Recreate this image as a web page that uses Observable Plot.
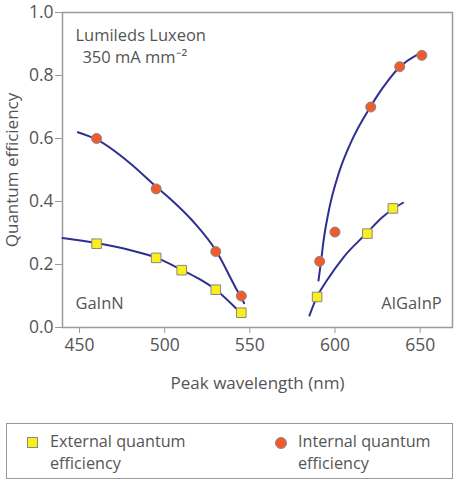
<!DOCTYPE html>
<html>
<head>
<meta charset="utf-8">
<script src="https://cdn.jsdelivr.net/npm/d3@7"></script>
<script src="https://cdn.jsdelivr.net/npm/@observablehq/plot@0.6"></script>
<style>
  body { margin: 0; background: #fff; font-family: "Open Sans", sans-serif; }
  #chart svg { display: block; }
  .legend { position: relative; margin: 23px 0 0 6px; width: 445px; height: 54px; border: 1px solid #9a9a9a; color: #555; font-size: 16.2px; line-height: 22px; }
  .legend .sw { position: absolute; width: 9px; height: 9px; border: 1px solid #888; }
  .legend .sq { left: 20px; top: 13px; background: #fbee1d; }
  .legend .ci { left: 268px; top: 13px; background: #f15a2c; border-radius: 50%; width: 10px; height: 10px; }
  .legend .tx { position: absolute; top: 6px; white-space: nowrap; }
</style>
</head>
<body>
<div id="chart"></div>
<div class="legend">
  <div class="sw sq"></div><div class="tx" style="left:43px">External quantum<br>efficiency</div>
  <div class="sw ci"></div><div class="tx" style="left:291px">Internal quantum<br>efficiency</div>
</div>
<script>
// Measured points
const gainnEqeX = [460, 495, 510, 530, 545];
const gainnEqeY = [0.266, 0.221, 0.182, 0.12, 0.047];
const gainnIqeX = [460, 495, 530, 545];
const gainnIqeY = [0.60, 0.44, 0.241, 0.10];
const algainpEqeX = [589.5, 619, 634];
const algainpEqeY = [0.097, 0.298, 0.378];
const algainpIqeX = [591, 600, 621, 638, 651];
const algainpIqeY = [0.21, 0.303, 0.70, 0.828, 0.864];

// Fitted curves
const gainnIqeFitX = [449, 460, 480, 495, 504, 517, 530, 541.5, 546.7];
const gainnIqeFitY = [0.62, 0.597, 0.52, 0.447, 0.405, 0.335, 0.245, 0.128, 0.077];
const gainnEqeFitX = [440, 460, 480, 495, 510, 520, 530, 543];
const gainnEqeFitY = [0.284, 0.268, 0.245, 0.222, 0.183, 0.155, 0.12, 0.055];
const algainpIqeFitX = [590.3, 591.7, 593.3, 596.8, 602.1, 609.9, 620.6, 625.5, 630.4, 637.8, 649];
const algainpIqeFitY = [0.149, 0.205, 0.276, 0.382, 0.488, 0.594, 0.699, 0.741, 0.778, 0.826, 0.868];
const algainpEqeFitX = [585, 589.4, 595.2, 605, 618.7, 627.8, 634.3, 640];
const algainpEqeFitY = [0.038, 0.097, 0.149, 0.223, 0.30, 0.35, 0.377, 0.396];

const xTicks = [450, 500, 550, 600, 650];
const yTicks = [0, 0.2, 0.4, 0.6, 0.8, 1.0];

const pts = (xs, ys) => xs.map((x, i) => ({x, y: ys[i]}));

const lineColor = "#2e2f8f";
const lineOpts = {x: "x", y: "y", stroke: lineColor, strokeWidth: 2, curve: "monotone-x"};
const eqeOpts = {x: "x", y: "y", symbol: "square", r: 5.4, fill: "#fbee1d", stroke: "#888", strokeWidth: 1};
const iqeOpts = {x: "x", y: "y", symbol: "circle", r: 5, fill: "#f15a2c", stroke: "#888", strokeWidth: 1};
const txt = "#555";

const chart = Plot.plot({
  width: 459,
  height: 400,
  marginLeft: 62,
  marginRight: 7,
  marginTop: 12,
  marginBottom: 73,
  x: {domain: [440, 669]},
  y: {domain: [0, 1]},
  style: {fontFamily: "Open Sans, sans-serif", fontSize: "17.5px", color: txt, background: "#fff"},
  marks: [
    Plot.frame({stroke: "#9a9a9a", strokeWidth: 1.5}),
    Plot.axisY({ticks: yTicks, tickSize: 7, tickPadding: 2, tickFormat: d3.format(".1f"), stroke: "#9a9a9a", fill: txt, fontSize: 17.5, label: null}),
    Plot.axisX({ticks: xTicks, tickSize: 6, tickPadding: 5, tickFormat: d3.format("d"), stroke: "#9a9a9a", fill: txt, fontSize: 17.5, label: null}),
    Plot.text(["Quantum efficiency"], {frameAnchor: "left", textAnchor: "middle", lineAnchor: "middle", rotate: -90, dx: -50, fill: txt, fontSize: 17}),
    Plot.text(["Peak wavelength (nm)"], {frameAnchor: "bottom", textAnchor: "middle", lineAnchor: "middle", dy: 56, fill: txt, fontSize: 17}),
    Plot.line(pts(gainnIqeFitX, gainnIqeFitY), lineOpts),
    Plot.line(pts(gainnEqeFitX, gainnEqeFitY), lineOpts),
    Plot.line(pts(algainpIqeFitX, algainpIqeFitY), lineOpts),
    Plot.line(pts(algainpEqeFitX, algainpEqeFitY), lineOpts),
    Plot.dot(pts(gainnIqeX, gainnIqeY), iqeOpts),
    Plot.dot(pts(algainpIqeX, algainpIqeY), iqeOpts),
    Plot.dot(pts(gainnEqeX, gainnEqeY), eqeOpts),
    Plot.dot(pts(algainpEqeX, algainpEqeY), eqeOpts),
    Plot.text(["Lumileds Luxeon"], {x: 447.6, y: 0.927, textAnchor: "start", fill: txt, fontSize: 16.5}),
    Plot.text(["350 mA mm⁻²"], {x: 451.7, y: 0.857, textAnchor: "start", fill: txt, fontSize: 16.5}),
    Plot.text(["GaInN"], {x: 447.6, y: 0.077, textAnchor: "start", fill: txt, fontSize: 16.5}),
    Plot.text(["AlGaInP"], {x: 662.7, y: 0.076, textAnchor: "end", fill: txt, fontSize: 16.5})
  ]
});
document.getElementById("chart").appendChild(chart);
</script>
</body>
</html>
